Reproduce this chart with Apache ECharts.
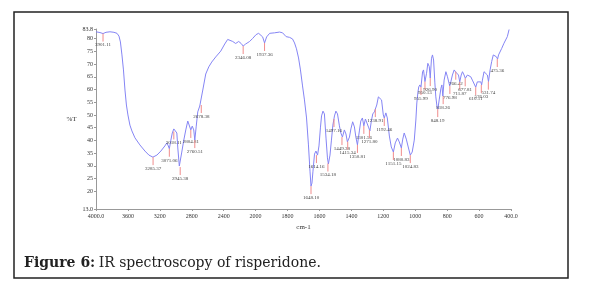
<!DOCTYPE html>
<html>
<head>
<meta charset="utf-8">
<script src="https://cdn.jsdelivr.net/npm/echarts@6/dist/echarts.min.js"></script>
<style>
  html, body { margin: 0; padding: 0; background: #fff; }
  #chart { width: 591px; height: 288px; }
</style>
</head>
<body>
<div id="chart"></div>
<script>
// spectrum (wavenumber in cm-1, transmittance in %T)
const wavenumber = [
  4000, 3950, 3912, 3875, 3825, 3775, 3737, 3712, 3694, 3675,
  3656, 3637, 3619, 3600, 3575, 3550, 3512, 3450, 3387, 3337,
  3287, 3237, 3187, 3137, 3112, 3094, 3081, 3062, 3044, 3025,
  3006, 2987, 2975, 2956, 2944, 2925, 2900, 2875, 2850, 2831,
  2812, 2794, 2775, 2762, 2744, 2725, 2700, 2681, 2662, 2625,
  2587, 2550, 2500, 2437, 2387, 2350, 2325, 2287, 2250, 2212,
  2181, 2156, 2125, 2075, 2037, 1997, 1981, 1969, 1956, 1944,
  1931, 1912, 1881, 1850, 1831, 1809, 1787, 1769, 1756, 1744,
  1731, 1719, 1706, 1694, 1681, 1669, 1659, 1653, 1647, 1641,
  1631, 1622, 1612, 1603, 1594, 1587, 1578, 1569, 1559, 1550,
  1544, 1534, 1525, 1516, 1506, 1497, 1487, 1475, 1466, 1456,
  1444, 1434, 1425, 1412, 1403, 1392, 1381, 1372, 1362, 1350,
  1341, 1331, 1322, 1312, 1303, 1291, 1284, 1275, 1266, 1256,
  1250, 1241, 1231, 1221, 1211, 1200, 1194, 1184, 1175, 1162,
  1150, 1137, 1125, 1111, 1100, 1087, 1078, 1069, 1056, 1044,
  1031, 1019, 1006, 996, 990, 983, 978, 971, 964, 954,
  948, 939, 929, 921, 912, 906, 898, 892, 885, 877,
  871, 864, 858, 850, 839, 833, 827, 819, 808, 798,
  784, 777, 767, 756, 747, 739, 729, 721, 712, 704,
  694, 686, 673, 662, 652, 642, 631, 621, 611, 600,
  589, 584, 579, 569, 558, 548, 541, 531, 521, 511,
  500, 492, 484, 478, 469, 458, 444, 433, 423, 412
]
const transmittance = [
  82.7, 82.4, 82.0, 82.5, 82.7, 82.5, 82.1, 81.0, 78.7, 73.6,
  67.7, 59.8, 53.9, 50.0, 46.0, 43.7, 41.0, 38.2, 35.8, 34.2,
  33.4, 34.2, 35.8, 37.8, 39.0, 37.8, 36.7, 40.1, 42.9, 44.5,
  44.9, 42.9, 37.0, 29.9, 29.5, 35.4, 40.1, 44.1, 47.6, 48.0,
  44.1, 45.6, 44.1, 40.1, 45.6, 51.2, 53.5, 53.9, 59.8, 66.1,
  68.9, 70.8, 72.8, 75.1, 77.9, 79.7, 80.1, 78.9, 78.1, 78.9,
  78.1, 77.1, 77.9, 78.9, 80.1, 81.6, 82.1, 82.0, 80.7, 78.3,
  80.7, 82.1, 82.3, 82.6, 82.3, 80.8, 80.5, 79.9, 78.3, 76.0,
  72.4, 67.7, 61.4, 55.9, 48.8, 38.2, 27.6, 22.0, 23.2, 27.6,
  34.6, 35.8, 34.2, 37.8, 44.9, 49.6, 51.5, 50.4, 40.9, 33.1,
  30.7, 34.2, 40.1, 46.0, 49.6, 51.5, 50.4, 45.7, 42.9, 41.3,
  44.1, 42.5, 39.4, 41.3, 44.5, 47.3, 45.3, 41.3, 38.2, 43.7,
  47.6, 48.8, 45.7, 48.4, 48.8, 44.9, 43.7, 47.6, 50.4, 51.2,
  52.3, 53.9, 57.1, 57.8, 55.9, 50.0, 48.8, 50.8, 48.8, 41.7,
  37.4, 35.4, 39.0, 40.9, 39.4, 37.0, 40.5, 42.9, 40.5, 37.4,
  34.2, 35.4, 40.1, 48.0, 54.7, 59.0, 61.0, 61.8, 61.0, 66.9,
  67.7, 63.1, 66.4, 70.3, 69.0, 64.5, 72.3, 73.6, 71.6, 62.6,
  57.1, 53.5, 52.3, 55.9, 60.5, 61.8, 57.4, 63.7, 67.0, 65.0,
  61.4, 63.0, 65.7, 67.7, 66.9, 67.0, 65.7, 63.0, 65.7, 67.0,
  65.7, 64.4, 65.7, 66.4, 65.0, 63.7, 63.0, 60.9, 63.0, 63.7,
  63.0, 61.8, 63.7, 67.0, 67.7, 65.7, 63.1, 67.7, 71.0, 73.6,
  74.2, 72.9, 72.0, 73.6, 73.6, 76.2, 78.2, 78.8, 80.8, 83.6
]

// peak markers: where the red tick sits, and the text printed under it
const peakWn = [
  3912, 3285, 3081, 3025, 2945, 2812, 2762, 2681, 2156, 1944,
  1653, 1619, 1547, 1509, 1459, 1423, 1362, 1322, 1287, 1250,
  1194, 1137, 1087, 1031, 964, 939, 906, 859, 825, 783,
  746, 721, 687, 621, 586, 542, 486
]
const peakT = [
  82.0, 33.4, 36.7, 43.5, 29.5, 44.1, 40.1, 53.9, 77.1, 78.3,
  22.0, 34.2, 30.9, 48.4, 41.3, 39.5, 38.2, 45.7, 44.1, 52.3,
  48.8, 35.4, 37.0, 34.2, 61.0, 63.1, 64.5, 52.3, 57.4, 61.4,
  67.0, 63.0, 64.4, 60.9, 61.8, 63.1, 72.0
]
const peakLabel = [
  '3901.11', '3285.37', '3071.06', '3018.11', '2945.38', '2804.81', '2760.51', '2678.38', '2346.08', '1937.36',
  '1648.10', '1614.16', '1534.18', '1497.16', '1449.38', '1415.34', '1350.81', '1301.56', '1271.80', '1238.91',
  '1192.46', '1151.15', '1080.83', '1024.83', '955.99', '950.13', '926.90', '848.19', '818.26', '776.98',
  '766.42', '711.87', '677.81', '610.11', '576.03', '531.74', '475.36'
]

const xTicks = [4000, 3600, 3200, 2800, 2400, 2000, 1800, 1600, 1400, 1200, 1000, 800, 600, 400]
const yTicks = [13.0, 20, 25, 30, 35, 40, 45, 50, 55, 60, 65, 70, 75, 80, 83.8]

// the x axis is compressed 2:1 above 2000 cm-1, like the instrument plot
function pos(wn) { return wn >= 2000 ? 2000 + (wn - 2000) / 2 : wn }
function unpos(p) { return p >= 2000 ? 2000 + (p - 2000) * 2 : p }

const serif = '"Liberation Serif", "Times New Roman", serif'

const chart = echarts.init(document.getElementById('chart'))

const option = {
  animation: false,
  backgroundColor: '#fff',
  grid: { left: 96, right: 80, top: 29, bottom: 79 },
  xAxis: {
    type: 'value',
    min: 400,
    max: 3000,
    inverse: true,
    name: 'cm-1',
    nameLocation: 'middle',
    nameGap: 9,
    nameTextStyle: { fontFamily: serif, fontSize: 7, color: '#333' },
    axisLine: { lineStyle: { color: '#999', width: 1 } },
    axisTick: { show: true, length: 2, customValues: xTicks.map(pos), lineStyle: { color: '#999' } },
    axisLabel: {
      customValues: xTicks.map(pos),
      showMinLabel: true,
      showMaxLabel: true,
      margin: 4,
      fontFamily: serif,
      fontSize: 6,
      color: '#333',
      formatter: function (v) {
        const w = Math.round(unpos(v))
        return (w === 4000 || w === 400) ? w.toFixed(1) : String(w)
      }
    },
    splitLine: { show: false }
  },
  yAxis: {
    type: 'value',
    min: 13.0,
    max: 83.8,
    name: '%T',
    nameLocation: 'middle',
    nameRotate: 0,
    nameGap: 12,
    nameTextStyle: { fontFamily: serif, fontSize: 7, color: '#333' },
    axisLine: { show: true, lineStyle: { color: '#999', width: 1 } },
    axisTick: { show: true, length: 2, customValues: yTicks, lineStyle: { color: '#999' } },
    axisLabel: {
      customValues: yTicks,
      showMinLabel: true,
      showMaxLabel: true,
      margin: 3,
      fontFamily: serif,
      fontSize: 6,
      color: '#333',
      formatter: function (v) {
        return (v === 13 || v === 83.8) ? v.toFixed(1) : String(v)
      }
    },
    splitLine: { show: false }
  },
  series: [
    {
      type: 'line',
      data: wavenumber.map((w, i) => [pos(w), transmittance[i]]),
      showSymbol: false,
      lineStyle: { color: '#8585f4', width: 1 },
      z: 2
    },
    {
      type: 'custom',
      data: peakWn.map((w, i) => [pos(w), peakT[i]]),
      z: 3,
      renderItem: function (params, api) {
        const p = api.coord([api.value(0), api.value(1)])
        return {
          type: 'group',
          children: [
            {
              type: 'line',
              shape: { x1: p[0], y1: p[1], x2: p[0], y2: p[1] + 8 },
              style: { stroke: '#f08c8c', lineWidth: 1 }
            },
            {
              type: 'text',
              x: p[0],
              y: p[1] + 9,
              style: {
                text: peakLabel[params.dataIndex],
                fill: '#444',
                font: '5px ' + serif,
                align: 'center',
                verticalAlign: 'top'
              }
            }
          ]
        }
      }
    }
  ],
  graphic: [
    {
      type: 'rect',
      shape: { x: 14, y: 12, width: 554, height: 266 },
      style: { fill: null, stroke: '#222', lineWidth: 1.5 },
      silent: true
    },
    {
      type: 'text',
      x: 24,
      y: 263,
      style: {
        text: '{b|Figure 6:} {n|IR spectroscopy of risperidone.}',
        verticalAlign: 'middle',
        rich: {
          b: { fontFamily: '"DejaVu Serif", serif', fontWeight: 'bold', fontSize: 14, fill: '#222' },
          n: { fontFamily: '"DejaVu Serif", serif', fontSize: 14, fill: '#222' }
        }
      }
    }
  ]
}

chart.setOption(option)
</script>
</body>
</html>
